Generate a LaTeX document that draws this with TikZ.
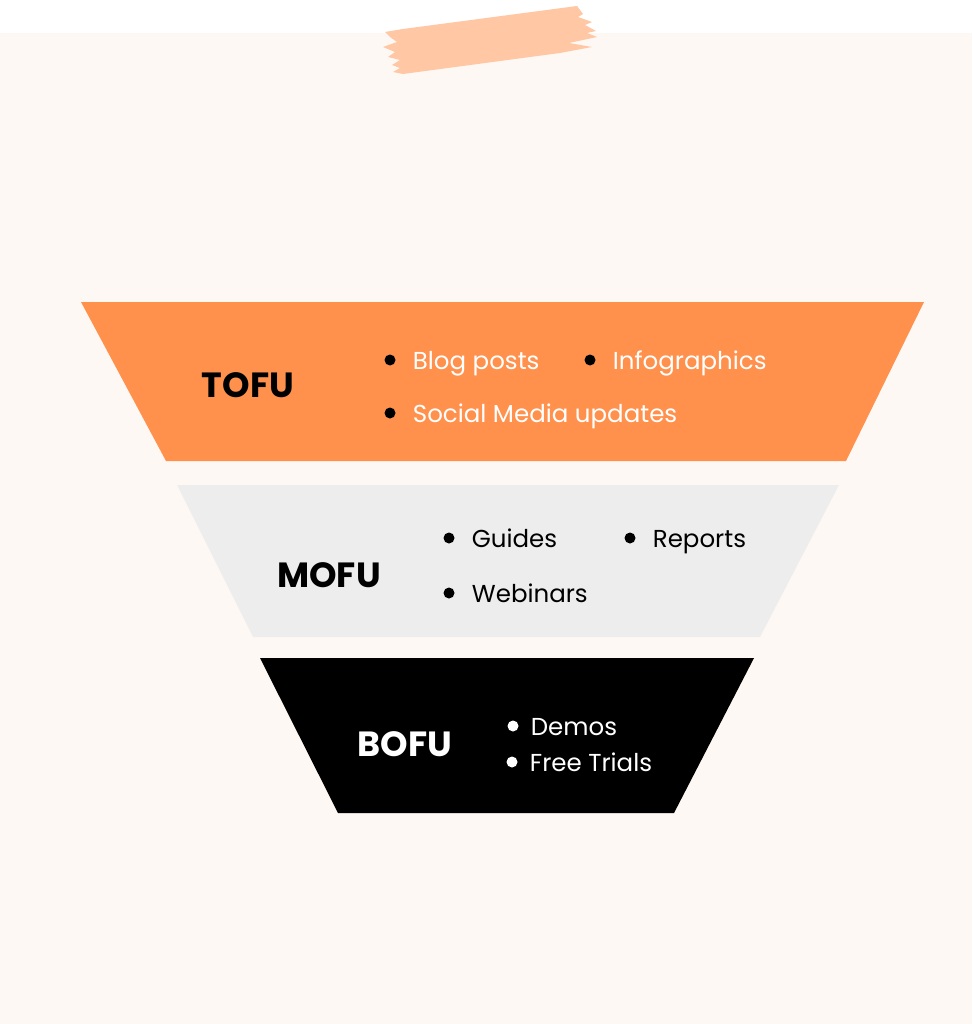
\documentclass[tikz,border=0pt]{standalone}
\usepackage{fontspec}
\setmainfont{Poppins}
\usetikzlibrary{positioning}

\definecolor{cream}{HTML}{FEF8F4}
\definecolor{peach}{HTML}{FFC7A3}
\definecolor{tofuorange}{HTML}{FF914D}
\definecolor{mofugray}{HTML}{EDEDED}

\begin{document}
\begin{tikzpicture}[x=1pt, y=-1pt, node distance=17pt]
        \tikzstyle{stage} = [inner sep=0pt, font=\fontsize{35}{40}\selectfont\bfseries]
        \tikzstyle{item} = [inner sep=0pt, anchor=west, text height=22pt, text depth=4pt, font=\fontsize{24.5}{30}\selectfont]
        \tikzstyle{dot} = [circle, fill=black, inner sep=0pt, minimum size=11pt]

        % background and brush stroke
        \fill [cream] (0,0) rectangle (972,1024);
        \fill [white] (0,0) rectangle (972,33);
        \useasboundingbox (0,0) rectangle (972,1024);
        \fill [peach] (577,6) -- (583,14) -- (578,17) -- (592,22) -- (585,25) -- (596,31) -- (587,33)
            -- (597,37) -- (569,43) -- (592,47) -- (560,53) -- (403,74) -- (393,72) -- (400,68)
            -- (392,65) -- (400,60) -- (388,57) -- (395,52) -- (383,47) -- (397,42) -- (390,37)
            -- (385,32) -- (403,29) -- cycle;

        % funnel
        \fill [tofuorange] (81,302) -- (924,302) -- (846,461) -- (166,461) -- cycle;
        \fill [mofugray] (177,485) -- (839,485) -- (760,637) -- (253,637) -- cycle;
        \fill [black] (260,658) -- (754,658) -- (674,813) -- (338,813) -- cycle;

        \node [stage] (tofu) at (248,385) {TOFU};
        \node [stage] (mofu) at (329,575) {MOFU};
        \node [stage, white] (bofu) at (405,744) {BOFU};

        \node [dot] (d1) at (390,360) {};
        \node [item, white, right=of d1] (blog) {Blog posts};
        \node [dot] (d2) at (590,360) {};
        \node [item, white, right=of d2] (info) {Infographics};
        \node [dot] (d3) at (390,413) {};
        \node [item, white, right=of d3] (social) {Social Media updates};

        \node [dot] (d4) at (449,538) {};
        \node [item, right=of d4] (guides) {Guides};
        \node [dot] (d5) at (630,538) {};
        \node [item, right=of d5] (reports) {Reports};
        \node [dot] (d6) at (449,593) {};
        \node [item, right=of d6] (webinars) {Webinars};

        \node [dot, fill=white] (d7) at (513,726) {};
        \node [item, white, right=12pt of d7] (demos) {Demos};
        \node [dot, fill=white] (d8) at (512,762) {};
        \node [item, white, right=12pt of d8] (trials) {Free Trials};
    \end{tikzpicture}
\end{document}
